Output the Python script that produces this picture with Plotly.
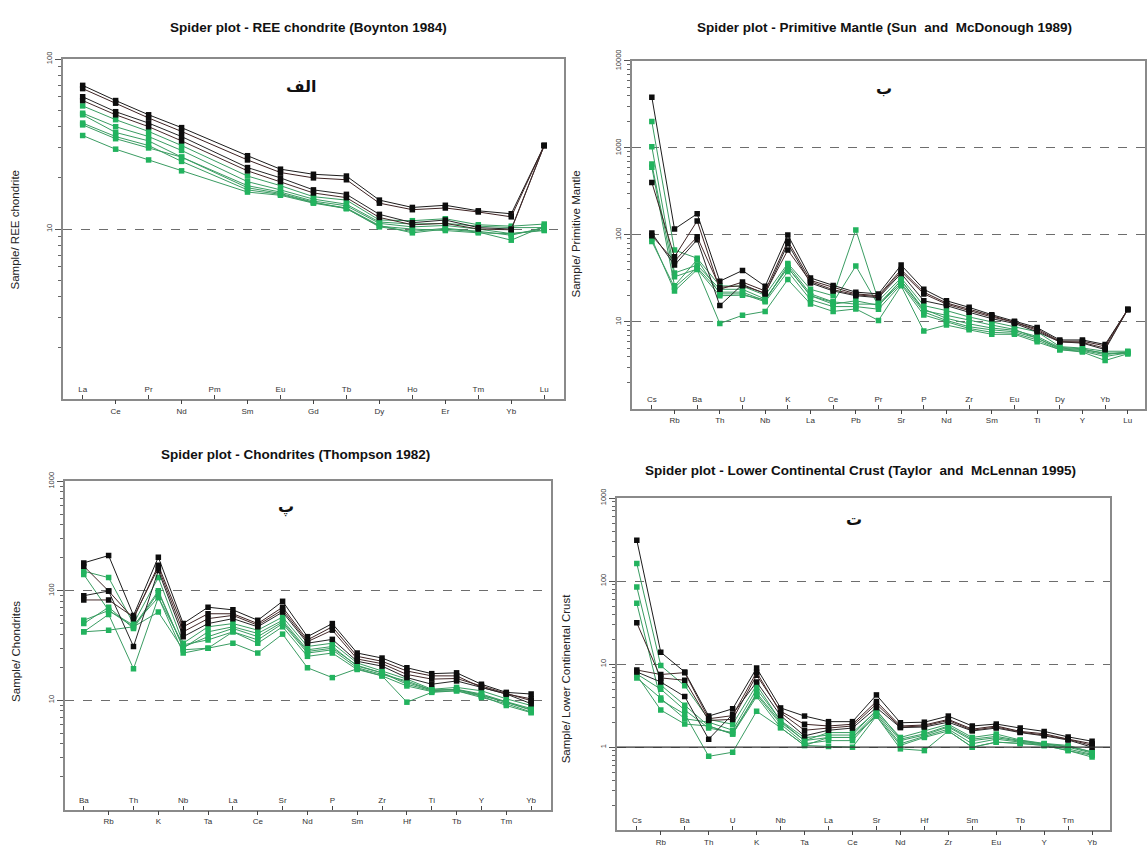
import plotly.graph_objects as go

W, H = 1147, 847

# ---------------- REE chondrite (Boynton 1984) ----------------
ree_elements = ["La", "Ce", "Pr", "Nd", "Pm", "Sm", "Eu", "Gd", "Tb", "Dy", "Ho", "Er", "Tm", "Yb", "Lu"]
ree_dark = [
    [70, 57, 47, 39.5, None, 27, 22.5, 21, 20.5, 14.8, 13.4, 13.8, 12.8, 12.3, 31],
    [67, 55, 45, 37.5, None, 25.5, 21.5, 20, 19.5, 14.2, 13.0, 13.3, 12.6, 11.8, 31],
    [60, 49, 42, 35, None, 23, 20, 17, 16, 12.2, 10.9, 11.3, 10.2, 10.0, 31],
    [57, 47, 40, 33, None, 22, 19, 16.3, 15.3, 11.7, 10.6, 10.8, 10.0, 9.9, 31],
]
ree_green = [
    [53, 44, 37.5, 31, None, 20.5, 18, 15.5, 14.8, 11.3, 11.2, 11.5, 10.6, 10.4, 10.7],
    [48, 40, 35, 29, None, 19, 17, 15, 14, 11.0, 10.7, 10.8, 10.4, 10.2, 10.2],
    [47, 37, 33, 26.5, None, 18, 16.5, 14.6, 13.7, 10.8, 10.3, 10.5, 10.0, 9.4, 9.8],
    [42, 35, 31, 25, None, 17, 16, 14.3, 13.3, 10.5, 9.5, 10.0, 9.6, 8.6, 10.4],
    [41, 34, 30, 26.5, None, 17.5, 16.2, 14.4, 13.2, 10.4, 10.0, 9.8, 9.5, 9.4, 9.9],
    [35.5, 29.5, 25.5, 22, None, 16.5, 15.8, 14.2, 13.2, 10.3, 9.7, 10.1, 9.7, 9.2, 10.2],
]

# ---------------- Primitive Mantle (Sun and McDonough 1989) ----------------
pm_elements = ["Cs", "Rb", "Ba", "Th", "U", "Nb", "K", "La", "Ce", "Pb", "Pr",
               "Sr", "P", "Nd", "Zr", "Sm", "Eu", "Ti", "Dy", "Y", "Yb", "Lu"]
pm_dark = [
    [3840, 117, 175, 29.4, 39, 25.7, 100, 32, 26.3, 22, 21, 45, 23.7, 17.5, 14.7, 12.1, 10.2, 8.6, 6.2, 6.2, 5.5, 13.9],
    [401, 56, 145, 23.7, 28.7, 22.7, 85, 30, 25, 21, 20, 40, 22, 16.5, 14, 11.8, 10.0, 8.3, 6.0, 6.0, 5.3, 13.9],
    [105, 45, 88, 15.4, 27, 21, 79, 28, 22.7, 20, 19, 36, 17.5, 15.4, 12.9, 10.9, 9.6, 7.7, 5.9, 5.7, 4.8, 13.9],
    [98, 50, 95, 25, 26, 21.5, 67, 29, 23.5, 20.5, 19.5, 38, 21, 16, 13.5, 11.4, 9.9, 8.0, 5.9, 5.8, 5.0, 13.9],
]
pm_green = [
    [2010, 67, 54, 26, 25.7, 20.3, 47, 23.7, 20, 114, 17.5, 32, 15.4, 13.5, 11.4, 10, 8.8, 7.7, 5.2, 5.0, 4.6, 4.6],
    [1035, 36.5, 45, 23.7, 23.7, 18.3, 42, 20, 16.8, 44, 15.4, 30, 13.5, 12, 10.5, 9.2, 8.2, 6.5, 5.0, 4.8, 4.4, 4.3],
    [655, 33, 40.5, 20, 20.3, 18, 42, 20, 16, 17.5, 15.5, 28, 13, 10.4, 8.8, 8.1, 7.7, 6.5, 4.9, 4.7, 4.2, 4.5],
    [600, 26, 52, 21, 21, 17, 38, 18, 15, 15, 14, 27, 12, 10, 8.4, 7.6, 7.4, 6.2, 4.8, 4.6, 4.0, 4.4],
    [90, 22.7, 40, 9.6, 11.9, 13.2, 30.7, 16.1, 13.2, 14.1, 10.4, 26, 7.85, 9.2, 8.1, 7.2, 7.2, 5.9, 4.8, 4.5, 3.6, 4.3],
    [84, 25, 42, 22, 22, 17.5, 45, 21, 17, 16, 16, 30, 14, 11, 9.5, 8.5, 8.0, 6.8, 5.1, 4.9, 4.3, 4.5],
]

# ---------------- Chondrites (Thompson 1982) ----------------
th_elements = ["Ba", "Rb", "Th", "K", "Nb", "Ta", "La", "Ce", "Sr", "Nd",
               "P", "Sm", "Zr", "Hf", "Ti", "Tb", "Y", "Tm", "Yb"]
th_dark = [
    [180, 210, 59.6, 203, 50.2, 70.8, 67, 53.8, 80.2, 38.1, 50.2, 27, 24.3, 19.8, 17.5, 17.8, 14, 11.8, 11.4],
    [168, 99.5, 55.7, 171, 46.9, 61.7, 61.7, 50.2, 70.8, 35.6, 46.9, 25.2, 22.7, 18.5, 16.7, 16.7, 13.1, 11.4, 10.3],
    [90.2, 99.5, 31, 153, 38.1, 50.2, 55.7, 46.9, 63.9, 33.2, 36, 22.7, 20.5, 16.1, 14, 15, 13.1, 11.4, 9.3],
    [82.5, 82.5, 57.6, 162, 42.2, 55.7, 59.6, 48.5, 67, 34.3, 43.7, 23.8, 21.6, 17.2, 15.6, 15.8, 13.5, 11.6, 9.9],
]
th_green = [
    [151, 132, 50.2, 132, 33.2, 46.9, 50.2, 43.7, 57.6, 31, 33.2, 21.9, 18.5, 15.6, 12.6, 13.1, 12.2, 10.3, 8.95],
    [141, 66.1, 46.9, 100, 29.9, 42.2, 46.9, 40.8, 53.8, 28.9, 31, 20.5, 17.8, 14, 12.2, 12.6, 11.4, 9.7, 8.4],
    [53.8, 66.1, 48.5, 87.1, 32.1, 35.6, 42.2, 35.6, 50.2, 27, 28.9, 19.8, 17.2, 15, 12.4, 12.5, 11, 9.6, 8.1],
    [42.2, 60.9, 19.4, 87.1, 27, 29.9, 42.2, 33.2, 46.9, 25.2, 27, 19.1, 16.7, 13.5, 12, 12.2, 10.6, 9.3, 7.8],
    [42.2, 43.7, 46.9, 63.9, 28.9, 29.9, 33.2, 27, 40.2, 19.8, 16.1, 19.4, 16.7, 9.6, 11.8, 12.2, 10.9, 8.95, 7.7],
    [50.2, 70.8, 45.3, 96.6, 30.6, 38.1, 45.3, 38.1, 52, 27.9, 29.9, 20.8, 17.8, 14.5, 12.4, 12.5, 11.2, 9.6, 8.2],
]

# ---------------- Lower Continental Crust (Taylor and McLennan 1995) ----------------
lcc_elements = ["Cs", "Rb", "Ba", "Th", "U", "K", "Nb", "Ta", "La", "Ce",
                "Sr", "Nd", "Hf", "Zr", "Sm", "Eu", "Tb", "Y", "Tm", "Yb"]
lcc_dark = [
    [311, 13.9, 8.05, 2.37, 2.9, 8.97, 2.97, 2.37, 2.03, 2.03, 4.26, 1.97, 2.0, 2.37, 1.8, 1.9, 1.7, 1.55, 1.33, 1.18],
    [31.4, 6.83, 6.4, 2.1, 2.16, 7.35, 2.71, 1.89, 1.8, 1.89, 3.55, 1.8, 1.85, 2.16, 1.65, 1.8, 1.55, 1.45, 1.25, 1.1],
    [8.05, 6.1, 4.07, 1.25, 2.5, 6.1, 2.4, 1.37, 1.6, 1.7, 3.0, 1.72, 1.75, 2.0, 1.57, 1.7, 1.5, 1.37, 1.22, 1.0],
    [8.5, 7.5, 7.9, 2.2, 2.4, 8.0, 2.6, 1.6, 1.7, 1.8, 3.3, 1.75, 1.8, 2.1, 1.6, 1.75, 1.52, 1.4, 1.24, 1.05],
]
lcc_green = [
    [163, 9.6, 5.5, 2.16, 1.89, 5.6, 2.07, 1.2, 1.5, 1.5, 2.71, 1.31, 1.57, 1.89, 1.31, 1.44, 1.22, 1.11, 1.05, 0.87],
    [85, 5.6, 3.2, 1.8, 1.44, 4.07, 1.72, 1.05, 1.31, 1.31, 2.37, 1.05, 1.31, 1.57, 1.0, 1.15, 1.11, 1.05, 0.91, 0.76],
    [54, 3.7, 2.5, 0.776, 0.87, 2.71, 1.72, 1.05, 1.02, 1.0, 2.37, 0.955, 0.91, 1.57, 1.0, 1.15, 1.11, 1.05, 0.91, 0.8],
    [7.35, 2.8, 1.9, 1.8, 1.44, 4.5, 2.0, 1.2, 1.31, 1.31, 2.6, 1.2, 1.4, 1.75, 1.2, 1.3, 1.18, 1.08, 1.0, 0.85],
    [6.83, 3.9, 2.2, 2.0, 1.6, 5.0, 2.1, 1.3, 1.4, 1.4, 2.8, 1.25, 1.45, 1.8, 1.25, 1.35, 1.2, 1.1, 1.02, 0.88],
    [7.6, 5.0, 2.8, 1.7, 1.5, 4.3, 1.9, 1.1, 1.2, 1.2, 2.5, 1.1, 1.35, 1.65, 1.1, 1.25, 1.15, 1.07, 0.95, 0.82],
]

panels = [
    dict(title="Spider plot - REE chondrite (Boynton 1984)",
         ytitle="Sample/ REE chondrite", letter="الف",
         elements=ree_elements, dark=ree_dark, green=ree_green,
         box=(63, 565, 48, 395), xpad=(0.6, 0.6), decades=(0, 2),
         title_xy=(309, 16), ytitle_xy=(15, 222), letter_xy=(302, 76)),
    dict(title="Spider plot - Primitive Mantle (Sun  and  McDonough 1989)",
         ytitle="Sample/ Primitive Mantle", letter="ب",
         elements=pm_elements, dark=pm_dark, green=pm_green,
         box=(633, 1147, 50, 405), xpad=(0.88, 0.76), decades=(0, 4),
         title_xy=(886, 16), ytitle_xy=(577, 226), letter_xy=(886, 78)),
    dict(title="Spider plot - Chondrites (Thompson 1982)",
         ytitle="Sample/ Chondrites", letter="پ",
         elements=th_elements, dark=th_dark, green=th_green,
         box=(65, 552, 479, 814), xpad=(0.76, 0.8), decades=(0, 3),
         title_xy=(296, 452), ytitle_xy=(16, 652), letter_xy=(286, 505)),
    dict(title="Spider plot - Lower Continental Crust (Taylor  and  McLennan 1995)",
         ytitle="Sample/ Lower Continental Crust", letter="ت",
         elements=lcc_elements, dark=lcc_dark, green=lcc_green,
         box=(618, 1112, 496, 835), xpad=(0.83, 0.75), decades=(-1, 3),
         title_xy=(862, 468), ytitle_xy=(567, 680), letter_xy=(855, 518)),
]

DARK_MARK = "#0d0d0d"
DARK_LINES = ["#1c1c1c", "#3d2222", "#262626", "#452a2a"]
GREEN_MARK = "#22b35e"
GREEN_LINE = "#3a9c62"
FRAME = "#8a8a8a"
FONT = "Liberation Sans, Arial, sans-serif"

fig = go.Figure()
annotations = []
shapes = []

for i, p in enumerate(panels, start=1):
    n = len(p["elements"])
    xs = list(range(n))
    x0, x1, ytop, ybot = p["box"]
    dom_x = [x0 / W, min(x1 / W, 1.0)]
    dom_y = [1 - ybot / H, 1 - ytop / H]
    xr = [-p["xpad"][0], n - 1 + p["xpad"][1]]
    lo, hi = p["decades"]
    xa, ya = f"x{i}", f"y{i}"
    xo = f"x{i + 4}"

    # green samples on the base axis, dark samples on the overlay axis (drawn on top)
    for vals in p["green"]:
        fig.add_trace(go.Scatter(
            x=xs, y=vals, xaxis=xa, yaxis=ya, mode="lines+markers",
            connectgaps=True, showlegend=False, hoverinfo="skip",
            line=dict(color=GREEN_LINE, width=1),
            marker=dict(symbol="square", size=5.5, color=GREEN_MARK)))
    for k, vals in enumerate(p["dark"]):
        fig.add_trace(go.Scatter(
            x=xs, y=vals, xaxis=xo, yaxis=ya, mode="lines+markers",
            connectgaps=True, showlegend=False, hoverinfo="skip",
            line=dict(color=DARK_LINES[k % len(DARK_LINES)], width=1),
            marker=dict(symbol="square", size=5.5, color=DARK_MARK)))

    even = xs[0::2]
    odd = xs[1::2]
    tickfont = dict(family=FONT, size=8, color="#333")

    # base x axis: every other element is labelled inside, above the axis
    fig.layout[f"xaxis{i}"] = dict(
        domain=dom_x, anchor=ya, range=xr, showgrid=False, zeroline=False,
        showline=True, mirror=True, linecolor=FRAME, linewidth=1.5,
        tickmode="array", tickvals=even,
        ticktext=[p["elements"][j] for j in even],
        ticks="inside", ticklen=4, tickcolor="#444",
        ticklabelposition="inside", tickfont=tickfont)
    # overlay x axis: the remaining labels hang below the axis
    fig.layout[f"xaxis{i + 4}"] = dict(
        overlaying=xa, anchor=ya, side="bottom", range=xr,
        showgrid=False, zeroline=False, showline=False,
        tickmode="array", tickvals=odd,
        ticktext=[p["elements"][j] for j in odd],
        ticks="outside", ticklen=4, tickcolor="#444", tickfont=tickfont)

    majors = [10 ** e for e in range(lo, hi + 1)]
    minors = [m * 10 ** e for e in range(lo, hi) for m in range(2, 10)]
    fig.layout[f"yaxis{i}"] = dict(
        domain=dom_y, anchor=xa, type="log", range=[lo, hi],
        showline=True, mirror=True, linecolor=FRAME, linewidth=1.5,
        zeroline=False, showgrid=True, gridcolor="#6d6d6d", griddash="dash",
        gridwidth=1, tickmode="array", tickvals=majors,
        ticktext=[("%g" % v) for v in majors], tickangle=-90,
        ticks="outside", ticklen=6, tickcolor="#555",
        tickfont=dict(family=FONT, size=7.5, color="#333"),
        minor=dict(tickvals=minors, ticks="outside", ticklen=3,
                   tickcolor="#666", showgrid=False))

    annotations.append(dict(
        text="<b>" + p["title"] + "</b>", xref="paper", yref="paper",
        x=p["title_xy"][0] / W, y=1 - p["title_xy"][1] / H,
        xanchor="center", yanchor="middle",
        showarrow=False, font=dict(family=FONT, size=13.5, color="#111")))
    annotations.append(dict(
        text=p["ytitle"], xref="paper", yref="paper",
        x=p["ytitle_xy"][0] / W, y=1 - p["ytitle_xy"][1] / H,
        textangle=-90, xanchor="center", yanchor="middle", showarrow=False,
        font=dict(family=FONT, size=11.5, color="#222")))
    annotations.append(dict(
        text="<b>" + p["letter"] + "</b>", xref="paper", yref="paper",
        x=p["letter_xy"][0] / W, y=1 - p["letter_xy"][1] / H,
        xanchor="center", yanchor="middle", showarrow=False,
        font=dict(family="DejaVu Sans", size=16, color="#111")))

# solid unit line in the crust-normalised panel
shapes.append(dict(type="line", xref="x4 domain", yref="y4 domain",
                   x0=0, x1=1, y0=0.25, y1=0.25,
                   line=dict(color="#333", width=1.2)))

fig.update_layout(
    width=W, height=H, margin=dict(l=0, r=0, t=0, b=0),
    paper_bgcolor="white", plot_bgcolor="white",
    annotations=annotations, shapes=shapes, showlegend=False)

fig.write_html("out.html")
